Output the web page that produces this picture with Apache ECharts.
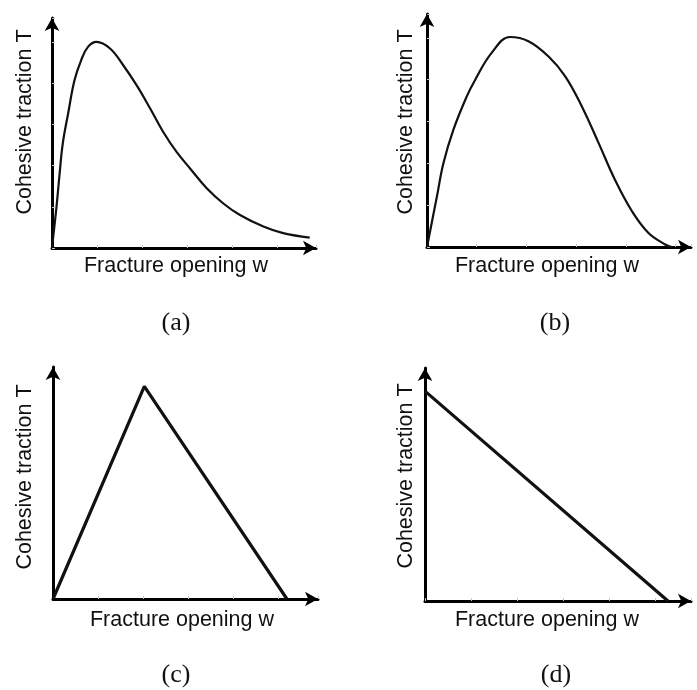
<!DOCTYPE html>
<html>
<head>
<meta charset="utf-8">
<script src="https://cdn.jsdelivr.net/npm/echarts@6/dist/echarts.min.js"></script>
<style>
  html, body { margin: 0; padding: 0; background: #fff; }
  #chart { width: 697px; height: 690px; }
</style>
</head>
<body>
<div id="chart"></div>
<script>
// 数据：各子图的曲线点 [w, T]
var curveA = [
  [0, 0], [0.1, 1.0], [0.17, 1.81], [0.24, 2.54], [0.36, 3.27], [0.5, 4.07],
  [0.65, 4.56], [0.8, 4.88], [0.99, 5.0], [1.29, 4.84], [1.58, 4.44], [1.88, 3.95],
  [2.18, 3.39], [2.47, 2.82], [2.77, 2.33], [3.07, 1.93], [3.44, 1.45], [3.81, 1.08],
  [4.18, 0.8], [4.7, 0.52], [5.14, 0.36], [5.73, 0.25]
];
var curveB = [
  [0, 0], [0.2, 1.21], [0.33, 2.0], [0.53, 2.8], [0.8, 3.6], [0.97, 4.0], [1.3, 4.64],
  [1.67, 5.02], [2.04, 4.92], [2.44, 4.56], [2.78, 4.08], [3.11, 3.37],
  [3.45, 2.49], [3.78, 1.61], [4.12, 0.86], [4.45, 0.34], [4.79, 0.06], [4.92, 0]
];
var lineC = [[0, 0], [2.03, 5.15], [5.2, 0]];
var lineD = [[0, 5.08], [5.28, 0]];

var xLabel = 'Fracture opening w';
var yLabel = 'Cohesive traction T';
var panelTags = ['(a)', '(b)', '(c)', '(d)'];

var chart = echarts.init(document.getElementById('chart'));

// 坐标轴公共样式
function makeAxis(gridIndex, max, showTick) {
  return {
    type: 'value',
    gridIndex: gridIndex,
    min: 0,
    max: max,
    interval: 1,
    axisLine: {
      show: true,
      symbol: ['none', 'arrow'],
      symbolSize: [11, 13],
      lineStyle: { color: '#000', width: 3 }
    },
    axisTick: {
      show: showTick,
      inside: true,
      length: 3,
      lineStyle: { color: '#c8c8c8', width: 1 }
    },
    axisLabel: { show: false },
    splitLine: { show: false }
  };
}

function makeSeries(idx, data, width, smooth) {
  return {
    type: 'line',
    xAxisIndex: idx,
    yAxisIndex: idx,
    data: data,
    smooth: smooth,
    showSymbol: false,
    clip: false,
    silent: true,
    lineStyle: { color: '#111', width: width }
  };
}

function textEl(x, y, text, font, size, rot) {
  return {
    type: 'text',
    x: x,
    y: y,
    rotation: rot || 0,
    style: {
      text: text,
      fontFamily: font,
      fontSize: size,
      fill: '#111',
      align: 'center',
      verticalAlign: 'middle'
    }
  };
}

var option = {
  animation: false,
  backgroundColor: '#fff',
  grid: [
    { left: 52, top: 18, width: 264, height: 230 },
    { left: 427, top: 14, width: 264, height: 233 },
    { left: 53, top: 367, width: 265, height: 232 },
    { left: 425, top: 368, width: 266, height: 233 }
  ],
  xAxis: [
    makeAxis(0, 5.87, true),
    makeAxis(1, 5.31, true),
    makeAxis(2, 5.89, true),
    makeAxis(3, 5.78, true)
  ],
  yAxis: [
    makeAxis(0, 5.58, true),
    makeAxis(1, 5.57, true),
    makeAxis(2, 5.62, false),
    makeAxis(3, 5.64, false)
  ],
  series: [
    makeSeries(0, curveA, 2.2, 0.4),
    makeSeries(1, curveB, 2.2, 0.4),
    makeSeries(2, lineC, 3.2, false),
    makeSeries(3, lineD, 3.2, false)
  ],
  graphic: [
    textEl(176, 266, xLabel, 'Liberation Sans', 21.5),
    textEl(547, 266, xLabel, 'Liberation Sans', 21.5),
    textEl(182, 620, xLabel, 'Liberation Sans', 21.5),
    textEl(547, 620, xLabel, 'Liberation Sans', 21.5),
    textEl(25, 122, yLabel, 'Liberation Sans', 21.5, Math.PI / 2),
    textEl(406, 122, yLabel, 'Liberation Sans', 21.5, Math.PI / 2),
    textEl(25, 477, yLabel, 'Liberation Sans', 21.5, Math.PI / 2),
    textEl(406, 476, yLabel, 'Liberation Sans', 21.5, Math.PI / 2),
    textEl(176, 323, panelTags[0], 'Liberation Serif', 26),
    textEl(555, 323, panelTags[1], 'Liberation Serif', 26),
    textEl(176, 675, panelTags[2], 'Liberation Serif', 26),
    textEl(556, 675, panelTags[3], 'Liberation Serif', 26)
  ]
};

chart.setOption(option);
</script>
</body>
</html>
